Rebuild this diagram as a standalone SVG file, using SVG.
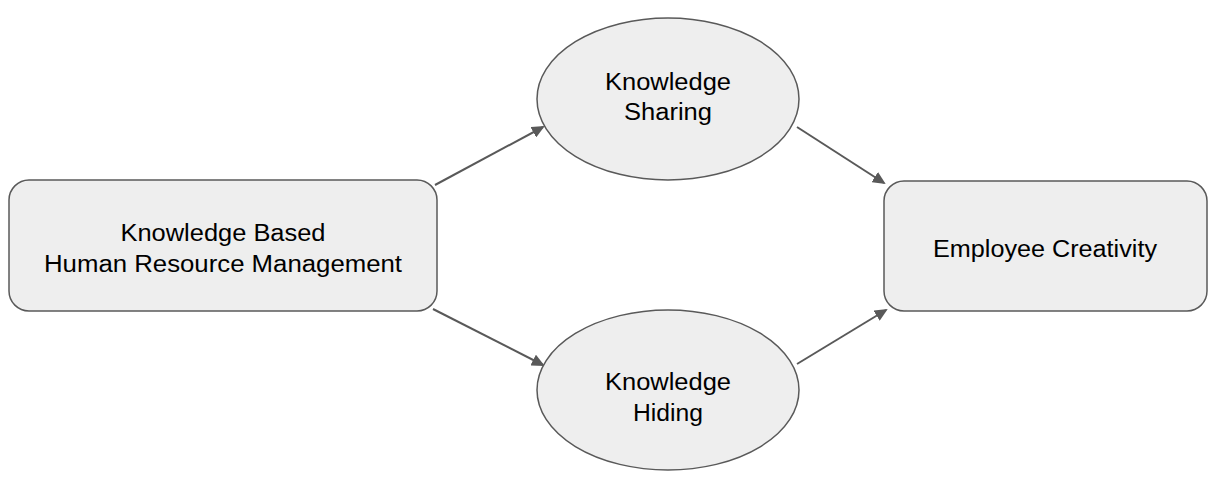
<svg xmlns="http://www.w3.org/2000/svg" width="1208" height="481" viewBox="0 0 1208 481">
<style>
.n{fill:#eeeeee;stroke:#595959;stroke-width:1.5}
.t{font-family:"Liberation Sans",Arial,sans-serif;font-size:23px;fill:#000;text-anchor:middle}
.c{stroke:#595959;stroke-width:2;fill:none;marker-end:url(#a)}
</style>
<defs>
<marker id="a" markerWidth="13" markerHeight="12" refX="11" refY="6" orient="auto" markerUnits="userSpaceOnUse" viewBox="0 0 13 12">
<path d="M0,0 L13,6 L0,12 z" fill="#595959"/>
</marker>
</defs>
<rect width="1208" height="481" fill="#fff"/>
<g id="connectors">
<line class="c" x1="435" y1="185" x2="543" y2="127"/>
<line class="c" x1="797" y1="127" x2="884" y2="183"/>
<line class="c" x1="433" y1="309" x2="543" y2="365"/>
<line class="c" x1="797" y1="364" x2="886" y2="310"/>
</g>
<g id="kbhrm">
<rect class="n" x="9" y="180" width="428" height="131" rx="20"/>
<text class="t" x="223" y="241" textLength="205" lengthAdjust="spacingAndGlyphs">Knowledge Based</text>
<text class="t" x="223" y="272" textLength="358" lengthAdjust="spacingAndGlyphs">Human Resource Management</text>
</g>
<g id="sharing">
<ellipse class="n" cx="668" cy="99" rx="131" ry="81"/>
<text class="t" x="668" y="90" textLength="126" lengthAdjust="spacingAndGlyphs">Knowledge</text>
<text class="t" x="668" y="120" textLength="88" lengthAdjust="spacingAndGlyphs">Sharing</text>
</g>
<g id="hiding">
<ellipse class="n" cx="668" cy="390" rx="131" ry="80"/>
<text class="t" x="668" y="390" textLength="126" lengthAdjust="spacingAndGlyphs">Knowledge</text>
<text class="t" x="668" y="421" textLength="70" lengthAdjust="spacingAndGlyphs">Hiding</text>
</g>
<g id="creativity">
<rect class="n" x="884" y="181" width="323" height="130" rx="20"/>
<text class="t" x="1045" y="257" textLength="224" lengthAdjust="spacingAndGlyphs">Employee Creativity</text>
</g>
</svg>
